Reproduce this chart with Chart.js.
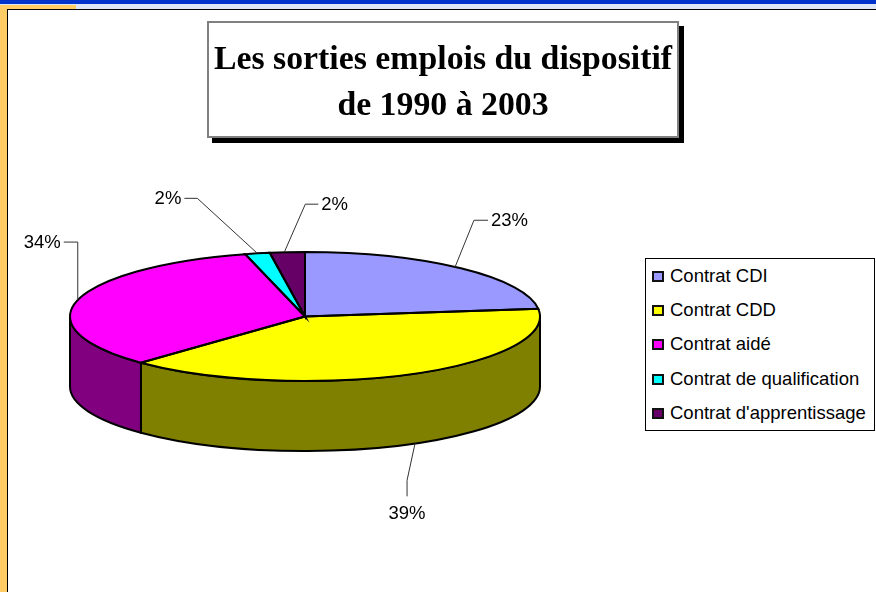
<!DOCTYPE html>
<html>
<head>
<meta charset="utf-8">
<title>Les sorties emplois du dispositif</title>
<script src="https://cdn.jsdelivr.net/npm/chart.js@4"></script>
<style>
  html, body { margin: 0; padding: 0; background: #fff; }
  body { position: relative; width: 876px; height: 592px; overflow: hidden; font-family: "Liberation Sans", Arial, sans-serif; }
  #bandBlue { position: absolute; left: 0; top: 0; width: 876px; height: 4px; background: #0033cc; }
  #bandLight { position: absolute; left: 0; top: 4px; width: 876px; height: 5px; background: #dfe6f5; }
  #bandOrange { position: absolute; left: 0; top: 5px; width: 76px; height: 4px; background: #ffcc66; }
  #sideOrange { position: absolute; left: 0; top: 5px; width: 7px; height: 587px; background: #ffcc66; }
  #lineTop { position: absolute; left: 7px; top: 9px; width: 869px; height: 1px; background: #000; }
  #lineLeft { position: absolute; left: 7px; top: 9px; width: 1px; height: 583px; background: #000; }
  #myChart { position: absolute; left: 0; top: 0; }
  #title { position: absolute; left: 207px; top: 21px; width: 468px; height: 113px;
    border: 2px solid #808080; background: #fff; box-shadow: 5px 5px 0 #000;
    font: bold 33.8px/46px "Liberation Serif", "Times New Roman", serif; text-align: center; color: #000; }
  #title div:first-child { margin-top: 12px; white-space: nowrap; }
  #legend { position: absolute; left: 645px; top: 258px; width: 228px; height: 171px; border: 1px solid #000; background: #fff; }
  .row { position: absolute; left: 6px; height: 20px; line-height: 20px; font-size: 18.5px; color: #000; white-space: nowrap; }
  .swatch { position: absolute; left: 0; top: 5px; width: 8px; height: 7px; border: 2px solid #111; }
  .row span { position: absolute; left: 18px; top: 0; }
</style>
</head>
<body>
<div id="bandBlue"></div>
<div id="bandLight"></div>
<div id="bandOrange"></div>
<div id="sideOrange"></div>
<div id="lineTop"></div>
<div id="lineLeft"></div>
<canvas id="myChart" width="876" height="592"></canvas>
<div id="title"></div>
<div id="legend"></div>

<script>
const categories = ["Contrat CDI", "Contrat CDD", "Contrat aidé", "Contrat de qualification", "Contrat d'apprentissage"]
const shares = [23.1, 39.2, 33.6, 1.7, 2.4]
const topColors = ["#9999ff", "#ffff00", "#ff00ff", "#00ffff", "#660066"]
const sideColors = ["#4d4d80", "#808000", "#800080", "#008080", "#330033"]
const titleLines = ["Les sorties emplois du dispositif", "de 1990 à 2003"]

const tilt = 64.5 / 235
const depth = 70

// leader lines: start, elbow and end, relative to the point on the rim of each slice
const leaders = [
  { start: [-6, -1], elbow: [13, -48], end: [27, -48], side: "left" },
  { start: [6, -1], elbow: [-2, 36], end: [-2, 52], side: "below" },
  { start: [0, 0], elbow: [0, -58], end: [-14, -58], side: "right" },
  { start: [0, 0], elbow: [-60, -55], end: [-73, -55], side: "right" },
  { start: [-3, 0], elbow: [18, -48], end: [31, -48], side: "left" },
]

document.querySelector("#title").innerHTML = titleLines.map(t => `<div>${t}</div>`).join("")

const legendDiv = document.querySelector("#legend")
categories.forEach((name, i) => {
  const row = document.createElement("div")
  row.className = "row"
  row.style.top = (7 + i * 34.2) + "px"
  row.innerHTML = `<div class="swatch" style="background:${topColors[i]}"></div><span>${name}</span>`
  legendDiv.appendChild(row)
})

const pie3d = {
  id: "pie3d",
  beforeDatasetsDraw(chart) {
    const ctx = chart.ctx
    const arcs = chart.getDatasetMeta(0).data
    const cx = arcs[0].x, cy = arcs[0].y, rx = arcs[0].outerRadius, ry = rx * tilt

    // side wall, only the front half of the rim shows
    arcs.forEach((arc, i) => {
      const a = Math.max(arc.startAngle, 0)
      const b = Math.min(arc.endAngle, Math.PI)
      if (b <= a) return
      ctx.beginPath()
      ctx.ellipse(cx, cy, rx, ry, 0, a, b)
      ctx.lineTo(cx + rx * Math.cos(b), cy + ry * Math.sin(b) + depth)
      ctx.ellipse(cx, cy + depth, rx, ry, 0, b, a, true)
      ctx.closePath()
      ctx.fillStyle = sideColors[i]
      ctx.fill()
      ctx.lineWidth = 2
      ctx.strokeStyle = "#000"
      ctx.stroke()
    })

    // squash the library's circle into the ellipse
    ctx.save()
    ctx.translate(cx, cy)
    ctx.scale(1, tilt)
    ctx.translate(-cx, -cy)
  },
  afterDatasetsDraw(chart) {
    const ctx = chart.ctx
    ctx.restore()
    const arcs = chart.getDatasetMeta(0).data
    const cx = arcs[0].x, cy = arcs[0].y, rx = arcs[0].outerRadius, ry = rx * tilt

    ctx.lineWidth = 2
    ctx.strokeStyle = "#000"
    arcs.forEach(arc => {
      ctx.beginPath()
      ctx.moveTo(cx, cy)
      ctx.ellipse(cx, cy, rx, ry, 0, arc.startAngle, arc.endAngle)
      ctx.closePath()
      ctx.stroke()
    })

    ctx.font = '18.5px "Liberation Sans", Arial, sans-serif'
    arcs.forEach((arc, i) => {
      const mid = (arc.startAngle + arc.endAngle) / 2
      const front = Math.sin(mid) > 0
      const px = cx + rx * Math.cos(mid)
      const py = cy + ry * Math.sin(mid) + (front ? depth : 0)
      const l = leaders[i]
      ctx.beginPath()
      ctx.moveTo(px + l.start[0], py + l.start[1])
      ctx.lineTo(px + l.elbow[0], py + l.elbow[1])
      ctx.lineTo(px + l.end[0], py + l.end[1])
      ctx.lineWidth = 1
      ctx.strokeStyle = "#333"
      ctx.stroke()

      ctx.fillStyle = "#000"
      const ex = px + l.end[0], ey = py + l.end[1]
      const text = Math.round(shares[i]) + "%"
      if (l.side === "left") {
        ctx.textAlign = "left"; ctx.textBaseline = "middle"
        ctx.fillText(text, ex + 3, ey + 1)
      } else if (l.side === "right") {
        ctx.textAlign = "right"; ctx.textBaseline = "middle"
        ctx.fillText(text, ex - 3, ey + 1)
      } else {
        ctx.textAlign = "center"; ctx.textBaseline = "top"
        ctx.fillText(text, ex, ey + 8)
      }
    })
  },
}

new Chart(document.getElementById("myChart").getContext("2d"), {
  type: "pie",
  data: {
    labels: categories,
    datasets: [{ data: shares, backgroundColor: topColors, borderWidth: 0 }],
  },
  options: {
    responsive: false,
    animation: false,
    layout: { padding: { left: 70, right: 336, top: 81.5, bottom: 40.5 } },
    plugins: { legend: { display: false }, tooltip: { enabled: false } },
  },
  plugins: [pie3d],
})
</script>
</body>
</html>
